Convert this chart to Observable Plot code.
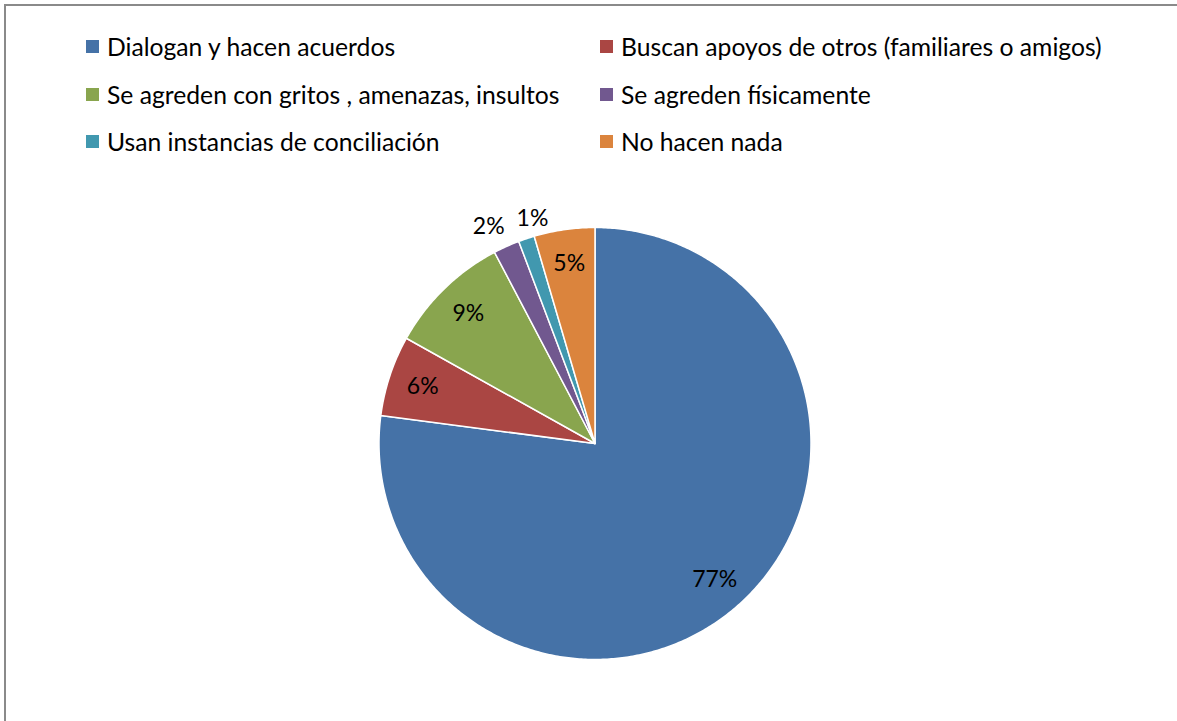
<!DOCTYPE html>
<html>
<head>
<meta charset="utf-8">
<script src="https://cdn.jsdelivr.net/npm/d3@7"></script>
<script src="https://cdn.jsdelivr.net/npm/@observablehq/plot@0.6"></script>
<style>
  html, body { margin: 0; padding: 0; background: #fff; overflow: hidden; }
  #wrap { position: relative; width: 1177px; height: 721px; overflow: hidden; font-family: Lato, "Open Sans", sans-serif; }
  #frame { position: absolute; left: 4px; top: 4px; width: 1300px; height: 900px; border-left: 2px solid #8a8a8a; border-top: 2px solid #8a8a8a; border-right: none; border-bottom: none; box-sizing: border-box; }
  #legend { position: absolute; left: 0; top: 0; }
  .item { position: absolute; display: flex; align-items: center; height: 26px; font-size: 24.7px; color: #000; white-space: nowrap; }
  .sw { width: 13px; height: 13px; margin-right: 8px; flex: none; }
  #chart { position: absolute; left: 0; top: 0; }
</style>
</head>
<body>
<div id="wrap">
  <div id="frame"></div>
  <div id="chart"></div>
  <div id="legend"></div>
</div>
<script>
const categories = [
  "Dialogan y hacen acuerdos",
  "Buscan apoyos de otros (familiares o amigos)",
  "Se agreden con gritos , amenazas, insultos",
  "Se agreden físicamente",
  "Usan instancias de conciliación",
  "No hacen nada"
];
const values = [77.07, 6.03, 9.2, 1.96, 1.2, 4.54];
const colors = ["#4572A7", "#AA4643", "#89A54E", "#71588F", "#4198AF", "#DB843D"];

const W = 1177, H = 721;
const cx = 594.5, cy = 443, R = 216;

const arcs = d3.pie().sort(null).value(d => d)(values);
const total = d3.sum(values);

// slice outlines (geometry only) in unit-radius coordinates, y up
const pts = [];
arcs.forEach((a, i) => {
  const name = categories[i];
  pts.push({name, x: 0, y: 0});
  const n = Math.max(4, Math.ceil((a.endAngle - a.startAngle) / 0.01));
  for (let k = 0; k <= n; k++) {
    const t = a.startAngle + (a.endAngle - a.startAngle) * k / n;
    pts.push({name, x: Math.sin(t), y: Math.cos(t)});
  }
  pts.push({name, x: 0, y: 0});
});

// labels
let outsideCount = 0;
const labels = arcs.map((a, i) => {
  const share = values[i] / total;
  const mid = (a.startAngle + a.endAngle) / 2;
  const outside = share < 0.03;
  const r = outside ? 1.1 : 0.84;
  let anchor = "middle";
  if (outside) {
    anchor = outsideCount % 2 === 0 ? "end" : "start";
    outsideCount++;
  }
  return {label: d3.format(".0%")(share), x: r * Math.sin(mid), y: r * Math.cos(mid), anchor};
});

const font = "Lato, 'Open Sans', sans-serif";
const chart = Plot.plot({
  width: W,
  height: H,
  margin: 0,
  style: {background: "transparent", overflow: "hidden"},
  x: {type: "linear", domain: [-cx / R, (W - cx) / R], range: [0, W], axis: null},
  y: {type: "linear", domain: [-(H - cy) / R, cy / R], range: [H, 0], axis: null},
  color: {domain: categories, range: colors},
  marks: [
    Plot.line(pts, {x: "x", y: "y", z: "name", fill: "name", stroke: "white", strokeWidth: 1.5, strokeLinejoin: "round", curve: "linear"}),
    Plot.text(labels.filter(d => d.anchor === "middle"), {x: "x", y: "y", text: "label", fill: "#000", fontSize: 23, fontFamily: font, textAnchor: "middle"}),
    Plot.text(labels.filter(d => d.anchor === "end"), {x: "x", y: "y", text: "label", fill: "#000", fontSize: 23, fontFamily: font, textAnchor: "end", dx: 7}),
    Plot.text(labels.filter(d => d.anchor === "start"), {x: "x", y: "y", text: "label", fill: "#000", fontSize: 23, fontFamily: font, textAnchor: "start", dx: -3})
  ]
});
document.getElementById("chart").appendChild(chart);

// legend: two columns, three rows
const legend = document.getElementById("legend");
const colX = [86, 600];
const rowY = [33, 81, 128];
categories.forEach((c, i) => {
  const el = document.createElement("div");
  el.className = "item";
  el.style.left = colX[i % 2] + "px";
  el.style.top = rowY[Math.floor(i / 2)] + "px";
  const sw = document.createElement("span");
  sw.className = "sw";
  sw.style.background = colors[i];
  const tx = document.createElement("span");
  tx.textContent = c;
  el.appendChild(sw);
  el.appendChild(tx);
  legend.appendChild(el);
});
</script>
</body>
</html>
